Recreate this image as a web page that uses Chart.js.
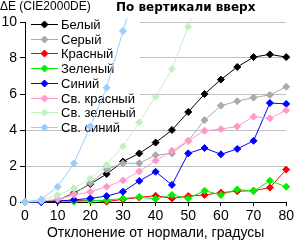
<!DOCTYPE html>
<html>
<head>
<meta charset="utf-8">
<script src="https://cdn.jsdelivr.net/npm/chart.js@4/dist/chart.umd.min.js"></script>
<style>
  html, body { margin: 0; padding: 0; background: #fff; }
  canvas { display: block; }
</style>
</head>
<body>
<canvas id="chart" width="296" height="244"></canvas>
<script>
// угол отклонения, градусы
const angles = [0, 5, 10, 15, 20, 25, 30, 35, 40, 45, 50, 55, 60, 65, 70, 75, 80];

// ΔE по цветам
const white      = [0, 0, 0.1, 0.5, 1.0, 1.55, 2.25, 2.7, 3.3, 4.0, 5.0, 6.0, 6.8, 7.5, 8.05, 8.2, 8.05];
const gray       = [0, 0, 0.1, 0.45, 1.05, 1.8, 2.15, 2.15, 2.6, 2.7, 3.4, 4.55, 5.35, 5.6, 5.8, 5.95, 6.4];
const red        = [0, 0, 0.05, 0.08, 0.1, 0.02, 0.15, 0.25, 0.35, 0.2, 0.33, 0.39, 0.52, 0.6, 0.63, 0.8, 1.8];
const green      = [0, 0, 0.07, 0.02, 0.07, 0.1, 0.2, 0.28, 0.17, 0.39, 0.2, 0.63, 0.39, 0.7, 0.6, 1.18, 0.85];
const blue       = [0, 0, 0.05, 0.12, 0.2, 0.33, 0.57, 1.17, 1.68, 0.95, 2.7, 3.0, 2.65, 2.95, 3.4, 5.5, 5.45];
const lightRed   = [0, 0.05, 0.15, 0.4, 0.57, 0.85, 1.2, 1.7, 2.3, 2.85, 3.4, 3.96, 4.05, 4.2, 4.74, 4.65, 5.1];
const lightGreen = [0, 0.1, 0.39, 0.76, 1.3, 2.06, 3.1, 4.43, 5.85, 7.39, 9.74, 12.2, null, null, null, null, null];
const lightBlue  = [0, 0.15, 0.85, 2.15, 4.2, 6.35, 9.5, 12.5, null, null, null, null, null, null, null, null, null];

const seriesNames  = ['Белый', 'Серый', 'Красный', 'Зеленый', 'Синий', 'Св. красный', 'Св. зеленый', 'Св. синий'];
const seriesValues = [white, gray, red, green, blue, lightRed, lightGreen, lightBlue];
const seriesColors = ['#000000', '#aaaaaa', '#ff0000', '#00ee00', '#0000ff', '#ff99cc', '#c0f2c0', '#99ccff'];

const xTickValues = [0, 10, 20, 30, 40, 50, 60, 70, 80];
const yTickValues = [0, 1, 2, 3, 4, 5, 6, 7, 8, 9, 10];

const FONT = 'Liberation Sans';

const datasets = seriesValues.map((vals, i) => ({
  label: seriesNames[i],
  data: angles.map((a, k) => ({ x: a, y: vals[k] })),
  borderColor: seriesColors[i],
  backgroundColor: seriesColors[i],
  pointBackgroundColor: seriesColors[i],
  pointBorderColor: seriesColors[i],
  borderWidth: 1,
  pointStyle: 'rectRot',
  pointRadius: 3.5,
  pointBorderWidth: 1,
  tension: 0,
  spanGaps: false,
  order: seriesValues.length - i,
  clip: { left: 6, right: 6, bottom: 6, top: 4 }
}));

// легенда внутри области графика + подписи сверху
const extras = {
  id: 'extras',
  beforeDatasetsDraw(chart) {
    const ctx = chart.ctx;
    ctx.save();
    ctx.fillStyle = '#fff';
    ctx.fillRect(26, 15, 114, 113);
    ctx.font = '13px "' + FONT + '"';
    ctx.textBaseline = 'middle';
    ctx.textAlign = 'left';
    chart.data.datasets.forEach((ds, i) => {
      const y = Math.round(24 + i * 14.7) + 0.5;
      ctx.strokeStyle = ds.borderColor;
      ctx.lineWidth = 1;
      ctx.beginPath();
      ctx.moveTo(31, y);
      ctx.lineTo(58, y);
      ctx.stroke();
      ctx.fillStyle = ds.backgroundColor;
      Chart.helpers.drawPoint(ctx, { pointStyle: 'rectRot', radius: 3.5, borderWidth: 1, rotation: 0 }, 44.5, y);
      ctx.fillStyle = '#000';
      ctx.fillText(ds.label, 61, y + 0.5);
    });
    ctx.restore();
  },
  afterDraw(chart) {
    const ctx = chart.ctx;
    ctx.save();
    ctx.fillStyle = '#000';
    ctx.textAlign = 'left';
    ctx.textBaseline = 'alphabetic';
    ctx.font = '12px "' + FONT + '"';
    ctx.fillText('ΔE (CIE2000DE)', 0, 10);
    ctx.font = 'bold 12px "DejaVu Sans"';
    ctx.fillText('По вертикали вверх', 116, 11);
    ctx.restore();
  }
};

new Chart(document.getElementById('chart'), {
  type: 'line',
  data: { datasets: datasets },
  options: {
    responsive: false,
    devicePixelRatio: 1,
    animation: false,
    events: [],
    layout: { padding: { top: 22, right: 8, left: 0, bottom: 0 } },
    plugins: {
      legend: { display: false },
      tooltip: { enabled: false },
      title: { display: false }
    },
    scales: {
      x: {
        type: 'linear',
        min: 0,
        max: 80,
        afterBuildTicks: s => { s.ticks = xTickValues.map(v => ({ value: v })); },
        afterFit: s => { s.height = 42; },
        grid: { drawOnChartArea: false, tickLength: 4, tickColor: '#000' },
        border: { color: '#000' },
        ticks: { color: '#000', font: { family: FONT, size: 14 }, padding: 2, maxRotation: 0 },
        title: {
          display: true,
          text: 'Отклонение от нормали, градусы',
          color: '#000',
          font: { family: FONT, size: 14 },
          padding: { top: 0, bottom: 2 }
        }
      },
      y: {
        min: 0,
        max: 10,
        afterBuildTicks: s => { s.ticks = yTickValues.map(v => ({ value: v })); },
        afterFit: s => { s.width = 25; },
        grid: { color: '#c0c0c0', tickLength: 5, tickColor: '#000' },
        border: { color: '#000' },
        ticks: { color: '#000', font: { family: FONT, size: 14 }, padding: 3 }
      }
    }
  },
  plugins: [extras]
});
</script>
</body>
</html>
